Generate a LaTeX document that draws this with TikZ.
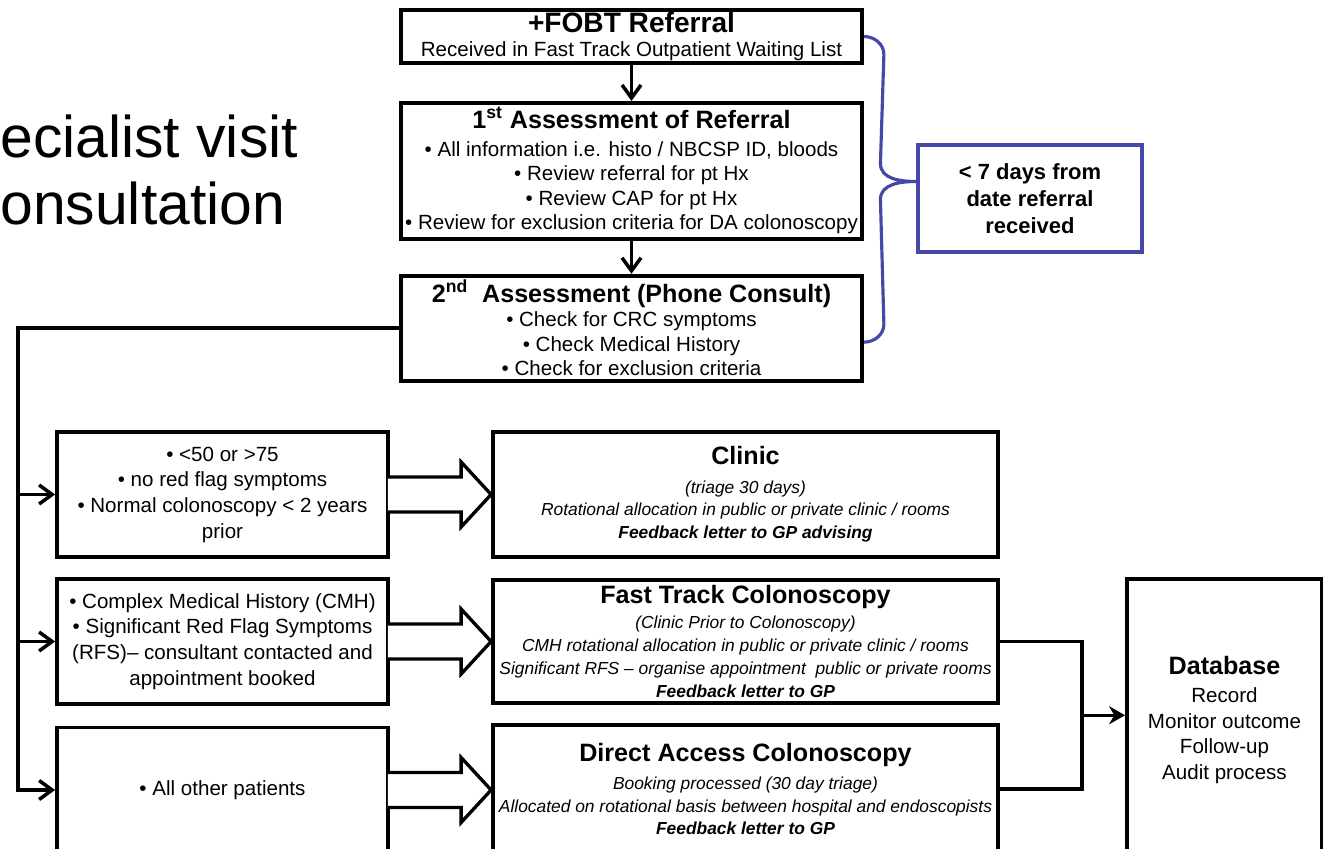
\documentclass[tikz,border=0pt]{standalone}
\usepackage{fontspec}
\setmainfont{Liberation Sans}
\usepackage{tikz}
\usetikzlibrary{positioning, arrows.meta, calc}
\definecolor{bracketblue}{RGB}{70,72,165}
\newcommand{\boxtitle}[1]{{\fontsize{14.3}{16}\selectfont\bfseries\upshape #1}}

\begin{document}
\begin{tikzpicture}[
  x=0.02cm, y=-0.02cm,
  >={Straight Barb[length=2.6mm,width=3.8mm]},
  flowbox/.style={draw, line width=2.2pt, inner sep=1pt, align=center, minimum width=9.22cm, font=\fontsize{11.7}{14}\selectfont},
  sidebox/.style={draw, line width=2.2pt, inner sep=1pt, align=center, minimum width=6.62cm, minimum height=2.5cm, font=\fontsize{11.7}{14.6}\selectfont},
  destbox/.style={draw, line width=2.2pt, inner sep=1pt, align=center, minimum width=10.1cm, font=\fontsize{9.9}{13}\selectfont\itshape},
  flow/.style={->, line width=2pt},
  fat/.style={draw, fill=white, line width=1.9pt, line join=miter},
  brace/.style={draw=bracketblue, line width=1.8pt}
]
  \useasboundingbox (0,0) rectangle (1323,849);

  %---------------- SLIDE TITLE (cut off) ----------------%
  \node[anchor=base west, inner sep=0pt, font=\fontsize{33.5}{40}\selectfont] (ttlA) at (0,157) {ecialist visit};
  \node[anchor=base west, inner sep=0pt, font=\fontsize{33.5}{40}\selectfont] (ttlB) at (0,224) {onsultation};

  %---------------- REFERRAL CHAIN ----------------%
  \node[flowbox, minimum height=1.06cm] (fobt) at (631.5,36.5) {{\fontsize{16}{18}\selectfont\bfseries +FOBT Referral}\\ Received in Fast Track Outpatient Waiting List};
  \node[flowbox, minimum height=2.72cm, below=0.72cm of fobt] (ass1) {\boxtitle{1\textsuperscript{st} Assessment of Referral}\\[2pt] • All information i.e. histo / NBCSP ID, bloods\\ • Review referral for pt Hx\\ • Review CAP for pt Hx\\ • Review for exclusion criteria for DA colonoscopy};
  \node[flowbox, minimum height=2.1cm, below=0.66cm of ass1] (ass2) {\boxtitle{2\textsuperscript{nd}\ \ Assessment (Phone Consult)}\\ • Check for CRC symptoms\\ • Check Medical History\\ • Check for exclusion criteria};

  \draw[flow] (fobt) -- (ass1);
  \draw[flow] (ass1) -- (ass2);

  %---------------- TIME LIMIT ----------------%
  \node[draw=bracketblue, line width=1.8pt, minimum width=4.48cm, minimum height=2.14cm, align=center, font=\fontsize{12.5}{15.3}\selectfont\bfseries] (days) at (1030,198.5) {< 7 days from\\ date referral\\ received};
  \coordinate (tip) at ($(days.west)+(0,-17)$);
  \draw[brace] (fobt.east) to[out=0,in=90] ($(fobt.east)+(20,18)$) -- ($(tip)+(-36,-18)$) to[out=-90,in=180] (tip)
    to[out=180,in=90] ($(tip)+(-36,18)$) -- ($(ass2.east)+(20,-4)$) to[out=-90,in=0] ($(ass2.east)+(0,14)$);

  %---------------- TRIAGE GROUPS ----------------%
  \node[sidebox] (sideA) at (222.5,494.5) {• <50 or >75\\ • no red flag symptoms\\ • Normal colonoscopy < 2 years\\ prior};
  \node[sidebox] (sideB) at (222.5,641.5) {• Complex Medical History (CMH)\\ • Significant Red Flag Symptoms\\ (RFS)– consultant contacted and\\ appointment booked};
  \node[sidebox] (sideC) at (222.5,790) {• All other patients};

  \coordinate (trunk) at ($(ass2.west)+(-381,0)$);
  \draw[flow] (ass2.west) -- (trunk) |- (sideC.west);
  \draw[flow] (trunk |- sideA.west) -- (sideA.west);
  \draw[flow] (trunk |- sideB.west) -- (sideB.west);

  %---------------- PATHWAYS ----------------%
  \node[destbox, minimum height=2.5cm] (clinic) at (745.5,494.5) {\boxtitle{Clinic}\\[3pt] (triage 30 days)\\ Rotational allocation in public or private clinic / rooms\\ \textbf{Feedback letter to GP advising}};
  \node[destbox, minimum height=2.46cm] (ftc) at (745.5,641.5) {\boxtitle{Fast Track Colonoscopy}\\[1pt] (Clinic Prior to Colonoscopy)\\ CMH rotational allocation in public or private clinic / rooms\\ Significant RFS – organise appointment\ \ public or private rooms\\ \textbf{Feedback letter to GP}};
  \node[destbox, minimum height=2.56cm] (dac) at (745.5,789) {\boxtitle{Direct Access Colonoscopy}\\[3pt] Booking processed (30 day triage)\\ Allocated on rotational basis between hospital and endoscopists\\ \textbf{Feedback letter to GP}};

  \draw[fat] let \p1=(sideA.east), \p2=(clinic.west) in (\x1-1.2pt,\y1+0.35cm) -- (\x2-0.6cm,\y1+0.35cm) -- (\x2-0.6cm,\y1+0.65cm) -- (\x2,\y1) -- (\x2-0.6cm,\y1-0.65cm) -- (\x2-0.6cm,\y1-0.35cm) -- (\x1-1.2pt,\y1-0.35cm);
  \draw[fat] let \p1=(sideB.east), \p2=(ftc.west) in (\x1-1.2pt,\y1+0.35cm) -- (\x2-0.6cm,\y1+0.35cm) -- (\x2-0.6cm,\y1+0.65cm) -- (\x2,\y1) -- (\x2-0.6cm,\y1-0.65cm) -- (\x2-0.6cm,\y1-0.35cm) -- (\x1-1.2pt,\y1-0.35cm);
  \draw[fat] let \p1=(sideC.east), \p2=(dac.west) in (\x1-1.2pt,\y1+0.35cm) -- (\x2-0.6cm,\y1+0.35cm) -- (\x2-0.6cm,\y1+0.65cm) -- (\x2,\y1) -- (\x2-0.6cm,\y1-0.65cm) -- (\x2-0.6cm,\y1-0.35cm) -- (\x1-1.2pt,\y1-0.35cm);

  %---------------- DATABASE ----------------%
  \node[draw, line width=2.2pt, minimum width=3.9cm, minimum height=5.64cm, align=center, font=\fontsize{11.7}{14.5}\selectfont] (db) at (1224.5,720) {\boxtitle{Database}\\[1.5pt] Record\\ Monitor outcome\\ Follow-up\\ Audit process};

  \draw[flow, -] (ftc.east) -- ++(82,0) coordinate (jn) |- (dac.east);
  \coordinate (mj) at ($(jn)!0.5!(jn |- dac.east)$);
  \draw[line width=2pt, -{Stealth[length=3.2mm,width=3.6mm]}] (mj) -- (mj -| db.west);

\end{tikzpicture}
\end{document}
